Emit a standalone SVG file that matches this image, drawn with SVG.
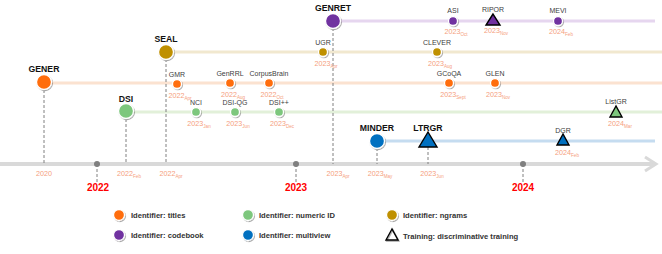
<svg xmlns="http://www.w3.org/2000/svg" width="662" height="254" viewBox="0 0 662 254">
<defs>
<filter id="sh" x="-50%" y="-50%" width="200%" height="200%"><feDropShadow dx="0.8" dy="1" stdDeviation="0.7" flood-color="#000" flood-opacity="0.35"/></filter>
</defs>
<style>
text{font-family:"Liberation Sans",Arial,sans-serif}
.big{font-size:8.7px;font-weight:bold;fill:#111;text-anchor:middle}
.lbl{font-size:7px;fill:#404040;text-anchor:middle}
.dt{font-size:7.2px;fill:#f5a07e;text-anchor:middle}
.sub{font-size:4.6px}
.yr{font-size:10px;font-weight:bold;fill:#ff0000;text-anchor:middle}
.lg{font-size:7.6px;font-weight:bold;fill:#333}
.dash{stroke:#808080;stroke-width:1;stroke-dasharray:3 2;fill:none}
.c{stroke:#fff;stroke-width:1.3;filter:url(#sh)}
.t{stroke:#000;stroke-width:1.4;stroke-linejoin:miter}
.or{fill:#ff6d0a}.pu{fill:#7030a0}.gr{fill:#7dc77d}.bl{fill:#0070c0}.go{fill:#bf9000}
</style>
<g id="connectors">
<line x1="0" y1="164" x2="655" y2="164" stroke="#d9d9d9" stroke-width="4"/>
<polyline points="645,157 656,164 645,171" fill="none" stroke="#d9d9d9" stroke-width="3"/>
<line x1="333" y1="21" x2="655" y2="21" stroke="#e6d6ef" stroke-width="3"/>
<line x1="166" y1="52" x2="662" y2="52" stroke="#f1e8cf" stroke-width="3"/>
<line x1="44" y1="83" x2="662" y2="83" stroke="#fbe2d0" stroke-width="3"/>
<line x1="126" y1="112" x2="662" y2="112" stroke="#e2f0d9" stroke-width="3"/>
<line x1="377" y1="141" x2="655" y2="141" stroke="#c5dcf0" stroke-width="3"/>
<line class="dash" x1="44" y1="90" x2="44" y2="164"/>
<line class="dash" x1="166" y1="59" x2="166" y2="164"/>
<line class="dash" x1="126" y1="119" x2="126" y2="164"/>
<line class="dash" x1="333" y1="28" x2="333" y2="164"/>
<line class="dash" x1="377" y1="148" x2="377" y2="164"/>
<line class="dash" x1="428" y1="147" x2="428" y2="164"/>
<line class="dash" x1="97" y1="164" x2="97" y2="182"/>
<line class="dash" x1="296" y1="164" x2="296" y2="182"/>
<line class="dash" x1="523" y1="164" x2="523" y2="182"/>
<circle cx="97" cy="164" r="3" fill="#7f7f7f"/>
<circle cx="296" cy="164" r="3" fill="#7f7f7f"/>
<circle cx="523" cy="164" r="3" fill="#7f7f7f"/>
</g>
<g id="years">
<text class="yr" x="98" y="191">2022</text>
<text class="yr" x="296" y="191">2023</text>
<text class="yr" x="523" y="191">2024</text>
</g>
<g id="GENER"><text class="big" x="44" y="72">GENER</text><circle class="c or" cx="44" cy="82" r="7.5"/><text class="dt" x="44" y="176">2020</text></g>
<g id="SEAL"><text class="big" x="166" y="42">SEAL</text><circle class="c go" cx="166" cy="52" r="7.5"/><text class="dt" x="171" y="176">2022<tspan class="sub" dy="1.5">Apr</tspan></text></g>
<g id="DSI"><text class="big" x="126" y="102">DSI</text><circle class="c gr" cx="126" cy="111" r="7.5"/><text class="dt" x="129" y="176">2022<tspan class="sub" dy="1.5">Feb</tspan></text></g>
<g id="GENRET"><text class="big" x="333" y="11">GENRET</text><circle class="c pu" cx="333" cy="21" r="7.5"/><text class="dt" x="338" y="176">2023<tspan class="sub" dy="1.5">Apr</tspan></text></g>
<g id="MINDER"><text class="big" x="377" y="131">MINDER</text><circle class="c bl" cx="377" cy="141" r="7.5"/><text class="dt" x="380" y="176">2023<tspan class="sub" dy="1.5">May</tspan></text></g>
<g id="LTRGR"><text class="big" x="428" y="131">LTRGR</text><polygon class="t bl" points="428,132 419,147 437,147"/><text class="dt" x="432" y="176">2023<tspan class="sub" dy="1.5">Jun</tspan></text></g>
<g id="GMR"><text class="lbl" x="177" y="77">GMR</text><circle class="c or" cx="177" cy="84" r="4.5"/><text class="dt" x="180" y="98">2022<tspan class="sub" dy="1.5">Apr</tspan></text></g>
<g id="GenRRL"><text class="lbl" x="230" y="76">GenRRL</text><circle class="c or" cx="230" cy="83" r="4.5"/><text class="dt" x="233" y="97">2022<tspan class="sub" dy="1.5">Aug</tspan></text></g>
<g id="CorpusBrain"><text class="lbl" x="269" y="76">CorpusBrain</text><circle class="c or" cx="269" cy="83" r="4.5"/><text class="dt" x="272" y="97">2022<tspan class="sub" dy="1.5">Oct</tspan></text></g>
<g id="GCoQA"><text class="lbl" x="449" y="76">GCoQA</text><circle class="c or" cx="449" cy="83" r="4.5"/><text class="dt" x="453" y="97">2023<tspan class="sub" dy="1.5">Sept</tspan></text></g>
<g id="GLEN"><text class="lbl" x="495" y="76">GLEN</text><circle class="c or" cx="495" cy="83" r="4.5"/><text class="dt" x="498" y="97">2023<tspan class="sub" dy="1.5">Nov</tspan></text></g>
<g id="NCI"><text class="lbl" x="196" y="105">NCI</text><circle class="c gr" cx="196" cy="112" r="4.5"/><text class="dt" x="199" y="126">2023<tspan class="sub" dy="1.5">Jan</tspan></text></g>
<g id="DSI-QG"><text class="lbl" x="235" y="105">DSI-QG</text><circle class="c gr" cx="235" cy="112" r="4.5"/><text class="dt" x="238" y="126">2023<tspan class="sub" dy="1.5">Jun</tspan></text></g>
<g id="DSI++"><text class="lbl" x="279" y="105">DSI++</text><circle class="c gr" cx="279" cy="112" r="4.5"/><text class="dt" x="282" y="126">2023<tspan class="sub" dy="1.5">Dec</tspan></text></g>
<g id="ListGR"><text class="lbl" x="616" y="104">ListGR</text><polygon class="t gr" points="616,106 610,117 622,117"/><text class="dt" x="620" y="126">2024<tspan class="sub" dy="1.5">Mar</tspan></text></g>
<g id="UGR"><text class="lbl" x="323" y="45">UGR</text><circle class="c go" cx="323" cy="52" r="4.5"/><text class="dt" x="326" y="66">2023<tspan class="sub" dy="1.5">Apr</tspan></text></g>
<g id="CLEVER"><text class="lbl" x="437" y="45">CLEVER</text><circle class="c go" cx="437" cy="52" r="4.5"/><text class="dt" x="440" y="66">2023<tspan class="sub" dy="1.5">Aug</tspan></text></g>
<g id="ASI"><text class="lbl" x="453" y="13">ASI</text><circle class="c pu" cx="453" cy="21" r="4.5"/><text class="dt" x="456" y="34">2023<tspan class="sub" dy="1.5">Oct</tspan></text></g>
<g id="RIPOR"><text class="lbl" x="493" y="12">RIPOR</text><polygon class="t pu" points="493,14 486,25 500,25"/><text class="dt" x="496" y="33">2023<tspan class="sub" dy="1.5">Nov</tspan></text></g>
<g id="MEVI"><text class="lbl" x="558" y="13">MEVI</text><circle class="c pu" cx="558" cy="21" r="4.5"/><text class="dt" x="561" y="34">2024<tspan class="sub" dy="1.5">Feb</tspan></text></g>
<g id="DGR"><text class="lbl" x="563" y="133">DGR</text><polygon class="t bl" points="563,134 557,145 569,145"/><text class="dt" x="567" y="155">2024<tspan class="sub" dy="1.5">Feb</tspan></text></g>
<g id="legend">
<circle class="c or" cx="119" cy="215" r="5.5"/><text class="lg" x="131" y="217.5">Identifier: titles</text>
<circle class="c pu" cx="119" cy="235" r="5.5"/><text class="lg" x="131" y="237.5">Identifier: codebook</text>
<circle class="c gr" cx="248" cy="215" r="5.5"/><text class="lg" x="259" y="217.5">Identifier: numeric ID</text>
<circle class="c bl" cx="248" cy="235" r="5.5"/><text class="lg" x="259" y="237.5">Identifier: multiview</text>
<circle class="c go" cx="392" cy="215" r="5.5"/><text class="lg" x="403" y="217.5">Identifier: ngrams</text>
<polygon points="392,229 386,240 398,240" fill="none" stroke="#000" stroke-width="1.4" filter="url(#sh)"/><text class="lg" x="403" y="239">Training: discriminative training</text>
</g>
</svg>
